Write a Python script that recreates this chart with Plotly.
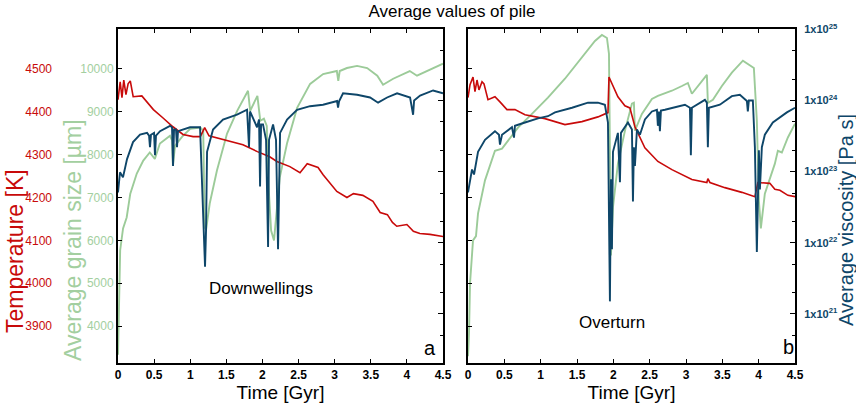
import plotly.graph_objects as go

# ---------------- panel a (Downwellings) ----------------
t_temp_a = [0, 0.03, 0.055, 0.08, 0.11, 0.14, 0.17, 0.21, 0.33, 0.49, 0.62, 0.76, 0.9, 1.04, 1.14, 1.2, 1.26,
            1.41, 1.73, 1.93, 2.1, 2.2, 2.38, 2.52, 2.62, 2.77, 2.84, 3.03, 3.17, 3.26, 3.39, 3.53, 3.63, 3.73,
            3.8, 3.86, 4.0, 4.09, 4.18, 4.32, 4.5]
temp_a = [4428, 4470, 4433, 4474, 4440, 4465, 4472, 4435, 4437, 4405, 4386, 4365, 4347, 4342, 4342, 4363, 4344,
          4337, 4323, 4307, 4295, 4284, 4272, 4258, 4279, 4270, 4253, 4214, 4200, 4209, 4205, 4191, 4165, 4160,
          4142, 4133, 4137, 4121, 4116, 4114, 4109]

t_grain_a = [0, 0.015, 0.03, 0.07, 0.12, 0.17, 0.26, 0.35, 0.44, 0.51, 0.58, 0.72, 0.75, 0.76, 0.79, 0.9, 1.0,
             1.14, 1.18, 1.2, 1.22, 1.27, 1.37, 1.51, 1.65, 1.8, 1.83, 1.93, 1.97, 2.02, 2.06, 2.08, 2.12, 2.16,
             2.2, 2.24, 2.34, 2.48, 2.66, 2.84, 3.03, 3.05, 3.07, 3.17, 3.31, 3.45, 3.59, 3.67, 3.81, 3.95, 4.04,
             4.14, 4.32, 4.5]
grain_a = [3330, 4600, 5770, 6280, 6535, 7090, 7560, 7860, 8050, 7900, 8260, 8440, 8330, 7740, 8210, 8440, 8600,
           8630, 8560, 6300, 6250, 6860, 7630, 8490, 9020, 9490, 9020, 9370, 8790, 8840, 8670, 7400, 6230, 6000,
           6700, 7470, 8260, 9090, 9650, 9880, 9950, 9720, 9950, 10020, 10070, 10020, 9840, 9630, 9770, 9880, 9950,
           9840, 9980, 10120]

t_visc_a = [0, 0.028, 0.069, 0.125, 0.208, 0.305, 0.402, 0.43, 0.443, 0.457, 0.499, 0.512, 0.526, 0.582, 0.72,
            0.748, 0.762, 0.776, 0.803, 0.817, 0.831, 0.9, 0.997, 1.136, 1.177, 1.205, 1.219, 1.233, 1.316, 1.454,
            1.648, 1.787, 1.814, 1.828, 1.925, 1.953, 1.967, 1.981, 2.008, 2.05, 2.078, 2.091, 2.147, 2.188, 2.216,
            2.23, 2.244, 2.341, 2.479, 2.659, 2.839, 3.033, 3.047, 3.061, 3.116, 3.31, 3.49, 3.601, 3.726, 3.864,
            4.044, 4.086, 4.1, 4.183, 4.363, 4.5]
visc_a = [5.1e22, 9.8e22, 8.3e22, 1.5e23, 2.6e23, 3.3e23, 3.5e23, 3.2e23, 2.2e23, 3.3e23,
          3.5e23, 1.7e23, 3.2e23, 3.7e23, 4.4e23, 4.2e23, 1.2e23, 3.9e23, 3.9e23, 2.2e23,
          3.7e23, 3.9e23, 4.2e23, 4.2e23, 3.8e22, 4.6e21, 1.5e22, 1.9e23, 3.9e23, 5.4e23,
          6.3e23, 7.4e23, 2.2e23, 7.0e23, 4.2e23, 5.4e23, 6.2e22, 4.6e23, 4.6e23, 2.8e23,
          8.7e21, 2.8e23, 4.6e23, 2.8e23, 8.1e21, 1.5e23, 3.5e23, 5.4e23, 7.4e23, 8.3e23,
          8.7e23, 9.8e23, 7.9e23, 9.7e23, 1.26e24, 1.2e24, 1.1e24, 9.3e23, 1.1e24, 1.26e24,
          1.1e24, 6.3e23, 1.0e24, 1.17e24, 1.38e24, 1.26e24]

# ---------------- panel b (Overturn) ----------------
t_temp_b = [0, 0.028, 0.069, 0.096, 0.124, 0.151, 0.193, 0.22, 0.275, 0.371, 0.44, 0.536, 0.646, 0.784, 1.059,
            1.334, 1.568, 1.788, 1.926, 1.94, 2.063, 2.159, 2.228, 2.297, 2.434, 2.613, 2.806, 3.081, 3.287, 3.301,
            3.329, 3.535, 3.769, 3.948, 3.989, 4.154, 4.223, 4.292, 4.402, 4.5]
temp_b = [4433, 4463, 4481, 4447, 4474, 4451, 4470, 4465, 4428, 4435, 4423, 4405, 4405, 4393, 4384,
          4370, 4377, 4388, 4398, 4481, 4435, 4414, 4409, 4365, 4316, 4284, 4265, 4242, 4235, 4244,
          4235, 4223, 4212, 4202, 4235, 4233, 4219, 4217, 4205, 4202]

t_grain_b = [0, 0.014, 0.028, 0.069, 0.11, 0.138, 0.234, 0.371, 0.468, 0.55, 0.688, 0.88, 1.1, 1.334, 1.568,
             1.747, 1.843, 1.912, 1.94, 1.953, 1.967, 1.995, 2.063, 2.16, 2.256, 2.283, 2.297, 2.393, 2.531, 2.613,
             2.806, 2.944, 3.026, 3.081, 3.164, 3.287, 3.301, 3.37, 3.494, 3.631, 3.783, 3.851, 3.934, 3.975,
             4.003, 4.03, 4.085, 4.223, 4.264, 4.319, 4.402, 4.5]
grain_b = [3300, 3840, 5000, 6000, 6100, 6630, 7400, 8090, 8140, 8330, 8630, 8950, 9330, 9770, 10260,
           10650, 10790, 10720, 10350, 6930, 5650, 6770, 7790, 8560, 9190, 9210, 8560, 8950, 9300, 9370,
           9490, 9600, 9670, 9420, 9600, 9860, 9210, 9280, 9600, 9910, 10190, 10120, 10020, 8790,
           6930, 6280, 7090, 7790, 8090, 8050, 8400, 8720]

t_visc_b = [0, 0.055, 0.083, 0.138, 0.234, 0.371, 0.426, 0.44, 0.468, 0.605, 0.633, 0.646, 0.784, 0.963, 1.1,
            1.197, 1.431, 1.651, 1.788, 1.884, 1.926, 1.94, 1.953, 1.967, 1.981, 1.995, 2.036, 2.063, 2.091, 2.105,
            2.201, 2.256, 2.27, 2.283, 2.297, 2.325, 2.366, 2.435, 2.531, 2.6, 2.613, 2.627, 2.641, 2.655, 2.71,
            2.889, 2.985, 3.054, 3.067, 3.081, 3.26, 3.287, 3.301, 3.315, 3.466, 3.631, 3.741, 3.838, 3.851, 3.865,
            3.92, 3.948, 3.975, 4.003, 4.017, 4.044, 4.085, 4.195, 4.292, 4.388, 4.5]
visc_b = [5.1e22, 1.07e23, 9.1e22, 1.9e23, 2.8e23, 3.7e23, 3.3e23, 2.4e23, 3.3e23, 4.2e23,
          3.0e23, 4.4e23, 4.9e23, 5.6e23, 6.0e23, 6.8e23, 7.9e23, 9.3e23, 9.3e23, 8.7e23,
          4.9e23, 4.1e22, 1.5e21, 7.8e22, 8.1e21, 1.9e23, 2.8e23, 3.5e23, 7.1e22, 3.5e23,
          4.9e23, 3.9e23, 3.8e22, 2.2e23, 1.2e23, 3.9e23, 3.3e23, 5.4e23, 7.0e23, 7.4e23,
          4.4e23, 7.0e23, 3.7e23, 7.2e23, 7.4e23, 8.3e23, 8.7e23, 7.9e23, 1.7e23, 7.9e23,
          1.02e24, 9.3e23, 2.2e23, 7.9e23, 8.7e23, 1.15e24, 1.2e24, 9.8e23, 7.0e23, 1.0e24,
          1.0e24, 2.2e23, 7.4e21, 2.0e23, 5.6e22, 2.2e23, 3.3e23, 4.9e23, 5.8e23, 6.8e23,
          7.9e23]

# ---------------- axis ticks / labels ----------------
temp_ticks = [3900, 4000, 4100, 4200, 4300, 4400, 4500]
grain_ticks = [4000, 5000, 6000, 7000, 8000, 9000, 10000]
visc_ticks = [1e21, 1e22, 1e23, 1e24, 1e25]
visc_ticktext = ["1x10<sup>21</sup>", "1x10<sup>22</sup>", "1x10<sup>23</sup>", "1x10<sup>24</sup>", "1x10<sup>25</sup>"]
visc_minor = [2e20, 5e20, 2e21, 5e21, 2e22, 5e22, 2e23, 5e23, 2e24, 5e24]

RED = "#c80a0a"
GREEN = "#9ccb99"
GREEN_TXT = "#a3cfa0"
BLUE = "#0e4669"
FONT = "Liberation Sans, Arial, sans-serif"

fig = go.Figure()

# panel a
fig.add_trace(go.Scatter(x=t_grain_a, y=grain_a, mode="lines", line=dict(color=GREEN, width=1.9),
                         xaxis="x", yaxis="y", showlegend=False))
fig.add_trace(go.Scatter(x=t_temp_a, y=temp_a, mode="lines", line=dict(color=RED, width=1.6),
                         xaxis="x", yaxis="y2", showlegend=False))
fig.add_trace(go.Scatter(x=t_visc_a, y=visc_a, mode="lines", line=dict(color=BLUE, width=1.9),
                         xaxis="x", yaxis="y3", showlegend=False))
# panel b
fig.add_trace(go.Scatter(x=t_grain_b, y=grain_b, mode="lines", line=dict(color=GREEN, width=1.9),
                         xaxis="x2", yaxis="y4", showlegend=False))
fig.add_trace(go.Scatter(x=t_temp_b, y=temp_b, mode="lines", line=dict(color=RED, width=1.6),
                         xaxis="x2", yaxis="y5", showlegend=False))
fig.add_trace(go.Scatter(x=t_visc_b, y=visc_b, mode="lines", line=dict(color=BLUE, width=1.9),
                         xaxis="x2", yaxis="y6", showlegend=False))

W, H = 856, 405
ML, MR, MT, MB = 0, 0, 29, 42
PW, PH = W - ML - MR, H - MT - MB


def px(x):
    return (x - ML) / PW


def py(y):
    return (H - MB - y) / PH


xcommon = dict(range=[0, 4.5], dtick=0.5, tick0=0, ticks="inside", ticklen=4, tickwidth=1, tickcolor="black",
               showline=True, linewidth=2, linecolor="black", mirror="ticks", showgrid=False, zeroline=False,
               automargin=False,
               tickfont=dict(family=FONT, size=12, color="black", weight="bold"),
               title=dict(text="Time [Gyr]", font=dict(family=FONT, size=19, color="black"), standoff=3))

grain_range = [3140, 10930]
temp_range = [3814, 4593]
visc_range = [20.31, 25.004]

vis_common = dict(type="log", range=visc_range, tickmode="array", tickvals=visc_ticks, ticks="inside",
                  ticklen=5, tickwidth=1, tickcolor="black", showline=True, linewidth=2, linecolor="black",
                  showgrid=False, zeroline=False, side="right", automargin=False,
                  minor=dict(tickmode="array", tickvals=visc_minor, ticks="inside", ticklen=3, tickwidth=1,
                             tickcolor="black", showgrid=False))

fig.update_layout(
    width=W, height=H, margin=dict(l=ML, r=MR, t=MT, b=MB, autoexpand=False),
    paper_bgcolor="white", plot_bgcolor="white",
    font=dict(family=FONT),
    title=dict(text="Average values of pile", x=px(452), xanchor="center", xref="paper",
               y=1 - 11 / H, yanchor="middle", yref="container",
               font=dict(family=FONT, size=17, color="black")),
    xaxis=dict(domain=[px(118), px(443)], anchor="y", **xcommon),
    xaxis2=dict(domain=[px(468), px(795)], anchor="y4", **xcommon),
    yaxis=dict(range=grain_range, tickmode="array", tickvals=grain_ticks, tickformat="d", anchor="x", side="left",
               ticks="inside", ticklen=4, tickwidth=1, tickcolor="black", showline=True, linewidth=2,
               linecolor="black", showgrid=False, zeroline=False, automargin=False,
               tickfont=dict(family=FONT, size=12, color=GREEN_TXT)),
    yaxis2=dict(range=temp_range, tickmode="array", tickvals=temp_ticks, tickformat="d", overlaying="y",
                anchor="free", position=px(52), side="left", ticks="", showline=False, showgrid=False,
                zeroline=False, automargin=False,
                tickfont=dict(family=FONT, size=12, color=RED)),
    yaxis3=dict(overlaying="y", anchor="x", showticklabels=False, **vis_common),
    yaxis4=dict(range=grain_range, tickmode="array", tickvals=grain_ticks, anchor="x2", side="left",
                ticks="inside", ticklen=4, tickwidth=1, tickcolor="black", showline=True, linewidth=2,
                linecolor="black", showgrid=False, zeroline=False, showticklabels=False, automargin=False),
    yaxis5=dict(range=temp_range, overlaying="y4", anchor="x2", visible=False, automargin=False),
    yaxis6=dict(overlaying="y4", anchor="x2", ticktext=visc_ticktext, showticklabels=True, ticklabelstandoff=5,
                tickfont=dict(family=FONT, size=11, color=BLUE, weight="bold"), **vis_common),
)

ann = [
    dict(text="Temperature [K]", x=px(15), y=py(251), font=dict(size=23, color=RED), textangle=-90),
    dict(text="Average grain size [µm]", x=px(73), y=py(240), font=dict(size=23, color=GREEN_TXT), textangle=-90),
    dict(text="Average viscosity [Pa s]", x=px(846), y=py(220), font=dict(size=20, color=BLUE), textangle=-90),
    dict(text="Downwellings", x=px(261), y=py(288), font=dict(size=17, color="black")),
    dict(text="Overturn", x=px(612), y=py(322), font=dict(size=17, color="black")),
    dict(text="a", x=px(430), y=py(348), font=dict(size=20, color="black")),
    dict(text="b", x=px(788), y=py(347), font=dict(size=20, color="black")),
]
for a in ann:
    a["font"]["family"] = FONT
    fig.add_annotation(xref="paper", yref="paper", showarrow=False, xanchor="center", yanchor="middle", **a)

fig.write_html("out.html", config={"displayModeBar": False},
               post_script="document.body.style.margin='0px';document.body.style.overflow='hidden';")
